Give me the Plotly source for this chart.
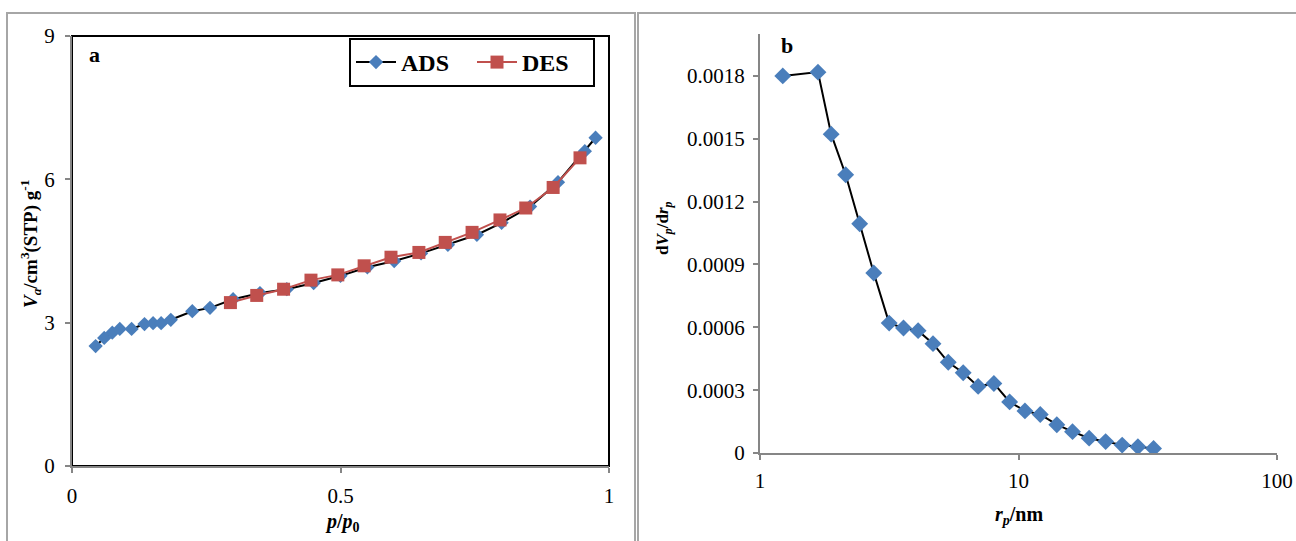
import plotly.graph_objects as go

# ---- data: panel a (isotherm) ----
ads_p = [0.044, 0.060, 0.075, 0.089, 0.111, 0.135, 0.151, 0.166, 0.184, 0.224, 0.257,
         0.300, 0.350, 0.400, 0.450, 0.500, 0.550, 0.600, 0.650, 0.700, 0.754, 0.800,
         0.853, 0.905, 0.955, 0.975]
ads_v = [2.51, 2.68, 2.79, 2.87, 2.87, 2.97, 2.99, 2.99, 3.06, 3.24, 3.31,
         3.49, 3.62, 3.70, 3.83, 3.98, 4.16, 4.29, 4.45, 4.63, 4.84, 5.09,
         5.43, 5.94, 6.59, 6.87]
des_p = [0.295, 0.344, 0.394, 0.445, 0.495, 0.544, 0.594, 0.646, 0.695, 0.745,
         0.797, 0.845, 0.896, 0.946]
des_v = [3.42, 3.57, 3.70, 3.89, 4.00, 4.19, 4.37, 4.47, 4.68, 4.89,
         5.15, 5.40, 5.83, 6.45]

# ---- data: panel b (pore size distribution) ----
rp = [1.225, 1.676, 1.885, 2.145, 2.43, 2.755, 3.16, 3.59, 4.09, 4.67, 5.35, 6.11,
      6.98, 8.03, 9.24, 10.59, 12.14, 14.07, 16.18, 18.76, 21.73, 25.18, 28.97, 33.3]
dvdr = [0.00180, 0.001818, 0.001522, 0.001328, 0.001094, 0.000859, 0.000620, 0.000597,
        0.000584, 0.000522, 0.000433, 0.000383, 0.000318, 0.000332, 0.000244, 0.000201,
        0.000184, 0.000135, 0.000102, 0.0000708, 0.0000543, 0.0000378, 0.0000296, 0.0000214]

a_yticks = [0, 3, 6, 9]
a_xticks = [0, 0.5, 1]
a_xticktext = ["0", "0.5", "1"]
b_yticks = [0, 0.0003, 0.0006, 0.0009, 0.0012, 0.0015, 0.0018]
b_yticktext = ["0", "0.0003", "0.0006", "0.0009", "0.0012", "0.0015", "0.0018"]
b_xticks = [1, 10, 100]
b_xticktext = ["1", "10", "100"]

W, H = 1296, 541
def px(x):
    return x / W
def py(y):
    return 1 - y / H

FONT = "Liberation Serif, Times New Roman, serif"
BLUE = "#4A7EBB"
RED = "#C0504D"
AXC = "#868686"

fig = go.Figure()
fig.add_trace(go.Scatter(x=ads_p, y=ads_v, name="<b>ADS</b>", mode="lines+markers",
                         line=dict(color="black", width=2),
                         marker=dict(symbol="diamond", size=11, color=BLUE),
                         xaxis="x", yaxis="y"))
fig.add_trace(go.Scatter(x=des_p, y=des_v, name="<b>DES</b>", mode="lines+markers",
                         line=dict(color=RED, width=2),
                         marker=dict(symbol="square", size=13, color=RED),
                         xaxis="x", yaxis="y"))
fig.add_trace(go.Scatter(x=rp, y=dvdr, name="PSD", mode="lines+markers", showlegend=False,
                         line=dict(color="black", width=2),
                         marker=dict(symbol="diamond", size=13, color=BLUE),
                         xaxis="x2", yaxis="y2"))

tickfont = dict(family=FONT, size=21, color="black")
common = dict(showgrid=False, zeroline=False, showline=True, linecolor=AXC, linewidth=2,
              ticks="outside", ticklen=5, tickcolor=AXC, tickwidth=1.5, tickfont=tickfont,
              automargin=False)

fig.update_layout(
    width=W, height=H, autosize=False,
    margin=dict(l=0, r=0, t=0, b=0, pad=0, autoexpand=False),
    paper_bgcolor="white", plot_bgcolor="white",
    font=dict(family=FONT, color="black"),
    xaxis=dict(domain=[px(72), px(609)], range=[0, 1], tickvals=a_xticks, ticktext=a_xticktext,
               anchor="y", ticklabelstandoff=5, **common),
    yaxis=dict(domain=[py(466), py(36)], range=[0, 9], tickvals=a_yticks,
               anchor="x", ticklabelstandoff=6, **common),
    xaxis2=dict(domain=[px(760), px(1277)], type="log", range=[0, 2], tickvals=b_xticks,
                ticktext=b_xticktext, anchor="y2", ticklabelstandoff=3, **common),
    yaxis2=dict(domain=[py(453), py(34)], range=[0, 0.002], tickvals=b_yticks,
                ticktext=b_yticktext, anchor="x2", ticklabelstandoff=4, **common),
    legend=dict(x=px(349), y=py(38), xanchor="left", yanchor="top", orientation="h",
                bgcolor="white", bordercolor="black", borderwidth=2,
                font=dict(family=FONT, size=24, color="black"),
                entrywidth=66, itemwidth=40, tracegroupgap=0),
    showlegend=True,
)

# panel frames
shapes = [
    dict(type="rect", xref="paper", yref="paper", x0=px(7), x1=px(635), y0=-0.2, y1=py(13),
         line=dict(color="#A6A6A6", width=2), layer="below"),
    dict(type="rect", xref="paper", yref="paper", x0=px(638), x1=1.2, y0=-0.2, y1=py(13),
         line=dict(color="#A6A6A6", width=2), layer="below"),
    dict(type="rect", xref="x domain", yref="y domain", x0=0, x1=1, y0=0, y1=1,
         line=dict(color="black", width=2), layer="below"),
]
fig.update_layout(shapes=shapes)

def ann(text, x, y, size=20, angle=0):
    return dict(text=text, x=px(x), y=py(y), xref="paper", yref="paper",
                xanchor="center", yanchor="middle", textangle=angle,
                showarrow=False, font=dict(family=FONT, size=size, color="black"))

annotations = [
    ann("<b>a</b>", 94, 55, 22),
    ann("<b>b</b>", 787, 46, 22),
    ann("<b><i>V</i><sub><i>a</i></sub>/cm<sup>3</sup>(STP) g<sup>-1</sup></b>", 31, 244, 19, -90),
    ann("<b><i>p</i>/<i>p</i><sub>0</sub></b>", 342, 522),
    ann("<b>d<i>V</i><sub><i>p</i></sub>/d<i>r</i><sub><i>p</i></sub></b>", 664, 228, 17, -90),
    ann("<b><i>r</i><sub><i>p</i></sub>/nm</b>", 1019, 515),
]
fig.update_layout(annotations=annotations)

fig.write_html("out.html", config={"responsive": False},
               post_script="document.documentElement.style.margin='0';document.body.style.margin='0';document.body.style.overflow='hidden';")
